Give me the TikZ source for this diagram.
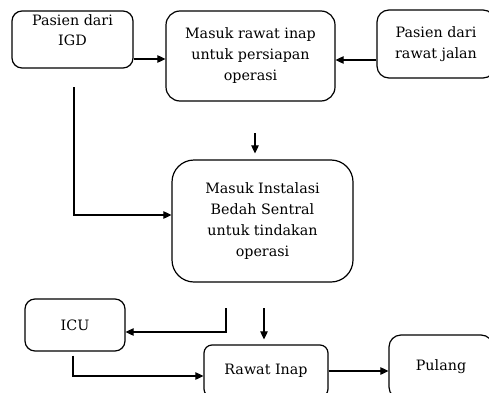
\documentclass[tikz,border=0pt]{standalone}
\usepackage{fontspec}
\setmainfont{DejaVu Serif}
\usetikzlibrary{arrows.meta}
\tikzset{
  stepbox/.style={draw, line width=1.2pt, rounded corners=10pt, align=center,
    inner sep=0pt, font=\fontsize{14.3}{21}\selectfont},
  arr/.style={line width=1.1pt, -{Triangle[length=8pt, width=7.5pt]}},
  wire/.style={line width=1.1pt}
}
\begin{document}
\begin{tikzpicture}[x=1pt, y=1pt]
  \useasboundingbox (0,0) rectangle (489,392);
  % Coordinates
  \coordinate (igdstart) at (74, 305);
  \coordinate (inapdown) at (255, 259);
  \coordinate (icudrop) at (226, 84);
  \coordinate (ibsdown) at (264, 84);

  % Boxes
  \node[stepbox, minimum width=121pt, minimum height=57pt] (igd) at (72.5, 352.5) {};
  \node[align=center, font=\fontsize{14.3}{20}\selectfont] (igdlabel) at (72.5, 362) {Pasien dari\\IGD};
  \node[stepbox, rounded corners=14pt, minimum width=169pt, minimum height=90pt] (inap) at (250.5, 336)
    {Masuk rawat inap\\untuk persiapan\\operasi};
  \node[stepbox, rounded corners=12pt, minimum width=118pt, minimum height=68pt] (jalan) at (436, 348)
    {Pasien dari\\rawat jalan};
  \node[stepbox, rounded corners=22pt, minimum width=181pt, minimum height=122pt] (ibs) at (262.5, 171)
    {Masuk Instalasi\\Bedah Sentral\\untuk tindakan\\operasi};
  \node[stepbox, minimum width=100pt, minimum height=52pt] (icu) at (75, 67) {ICU};
  \node[stepbox, rounded corners=8pt, minimum width=124pt, minimum height=52pt] (ranap) at (266, 21) {Rawat Inap};
  \node[stepbox, rounded corners=12pt, minimum width=104pt, minimum height=64pt] (pulang) at (441, 25) {Pulang};

  % Connectors
  \draw[arr] ([yshift=-3pt]igd.east |- inap.west) -- ([yshift=-3pt]inap.west);
  \draw[arr] ([yshift=-16pt]jalan.west) -- ([yshift=-16pt]jalan.west -| inap.east);
  \draw[arr] (igdstart) |- ([yshift=6pt]ibs.west);
  \draw[arr, shorten >=6pt] (inapdown) -- (inapdown |- ibs.north);
  \draw[arr] (icudrop) |- ([yshift=-7pt]icu.east);
  \draw[arr, shorten >=5pt] (ibsdown) -- (ibsdown |- ranap.north);
  \draw[arr] ([xshift=-2pt, yshift=-4pt]icu.south) |- ([yshift=-5pt]ranap.west);
  \draw[arr] (ranap.east) -- (ranap.east -| pulang.west);
\end{tikzpicture}
\end{document}
